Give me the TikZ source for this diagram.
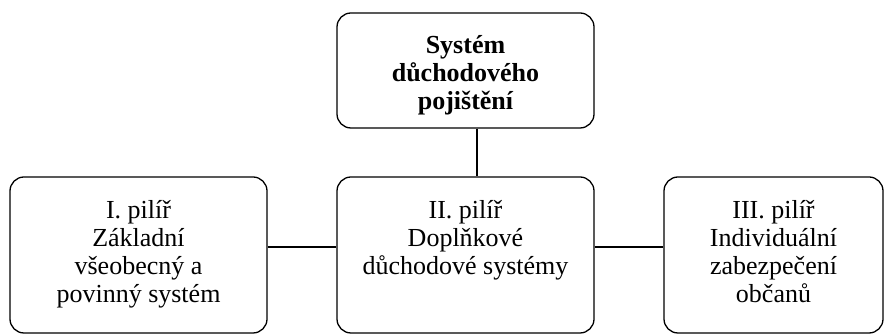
\documentclass[tikz,border=0pt]{standalone}
\usepackage{fontspec}
\setmainfont{Liberation Serif}
\begin{document}
\begin{tikzpicture}[x=1pt,y=1pt,
  boxstyle/.style={draw=black, line width=1.3pt, rounded corners=14pt, inner sep=0pt},
  txtstyle/.style={align=center, inner sep=0pt, font=\fontsize{26}{28}\selectfont},
  conn/.style={line width=1.3pt}]
\useasboundingbox (0,0) rectangle (885,336);
\node[boxstyle, minimum width=257pt, minimum height=115pt] (top) at (465.5,265.5) {};
\node[boxstyle, minimum width=257pt, minimum height=156pt] (left) at (138.5,81) {};
\node[boxstyle, minimum width=257pt, minimum height=156pt] (mid) at (465.5,81) {};
\node[boxstyle, minimum width=219pt, minimum height=156pt] (right) at (773.5,81) {};
\node[txtstyle, anchor=north, font=\fontsize{26}{28}\selectfont\bfseries] (ttop) at (465.5,305) {\rule{0pt}{22pt}Systém\\důchodového\\pojištění};
\node[txtstyle, anchor=north] (tleft) at (138.5,140) {\rule{0pt}{22pt}I. pilíř\\Základní\\všeobecný a\\povinný systém};
\node[txtstyle, anchor=north] (tmid) at (465.5,140) {\rule{0pt}{22pt}II. pilíř\\Doplňkové\\důchodové systémy};
\node[txtstyle, anchor=north] (tright) at (773.5,140) {\rule{0pt}{22pt}III. pilíř\\Individuální\\zabezpečení\\občanů};
\draw[conn] ([xshift=11.5pt]top.south) -- ([xshift=11.5pt]mid.north);
\draw[conn] ([yshift=8pt]left.east) -- ([yshift=8pt]mid.west);
\draw[conn] ([yshift=8pt]mid.east) -- ([yshift=8pt]right.west);
\end{tikzpicture}
\end{document}
